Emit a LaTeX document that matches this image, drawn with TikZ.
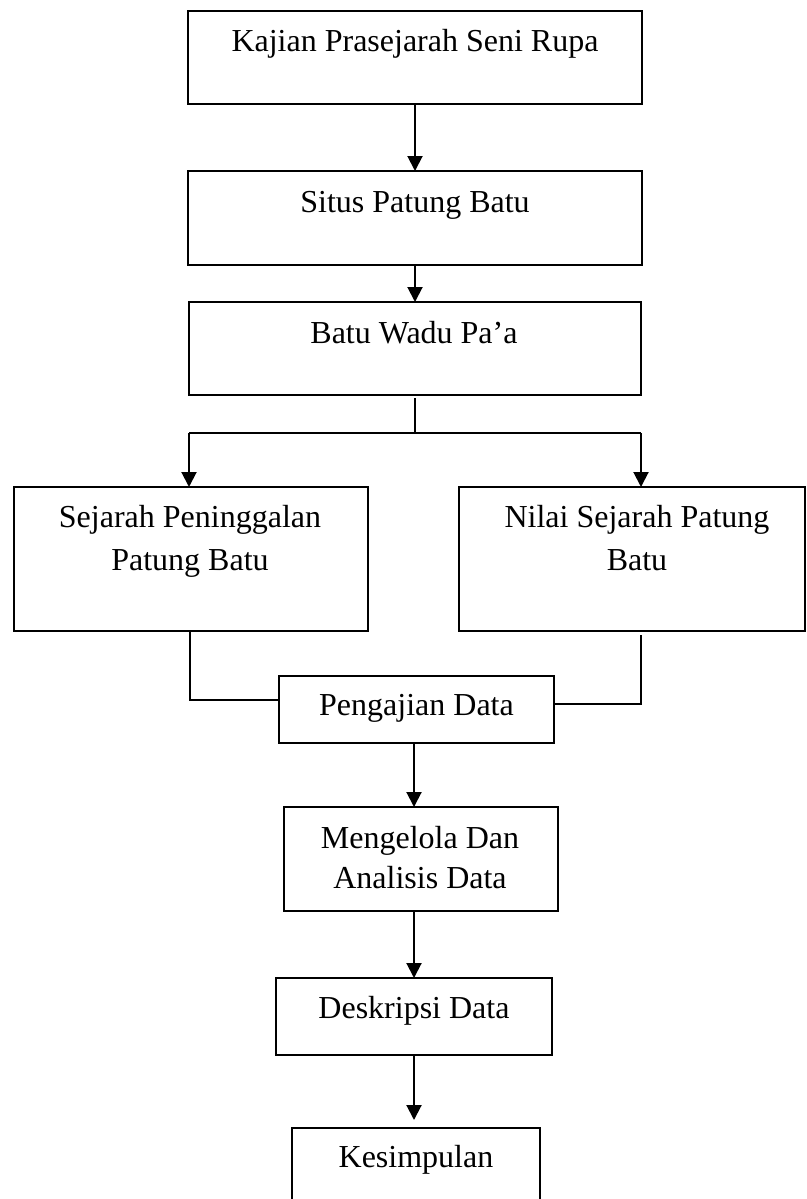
\documentclass[tikz,border=0pt]{standalone}
\usepackage{fontspec}
\setmainfont{Liberation Serif}
\usetikzlibrary{arrows.meta}
\begin{document}
\begin{tikzpicture}[x=1pt,y=-1pt,
  box/.style={draw, line width=2pt, inner sep=0pt, outer sep=0pt},
  txt/.style={font=\fontsize{32}{43}\selectfont, anchor=base, align=center, inner sep=0pt},
  conn/.style={line width=2pt},
  arr/.style={conn, -{Triangle[length=15pt,width=15pt]}}]
\path[use as bounding box] (0,0) rectangle (806,1199);
\clip (0,0) rectangle (806,1199);
% boxes
\node[box, minimum width=454pt, minimum height=93pt] (b1) at (415,57.5) {};
\node[box, minimum width=454pt, minimum height=94pt] (b2) at (415,218) {};
\node[box, minimum width=452pt, minimum height=93pt] (b3) at (415,348.5) {};
\node[box, minimum width=354pt, minimum height=144pt] (b4) at (191,559) {};
\node[box, minimum width=346pt, minimum height=144pt] (b5) at (632,559) {};
\node[box, minimum width=275pt, minimum height=67pt] (b6) at (416.5,709.5) {};
\node[box, minimum width=274pt, minimum height=104pt] (b7) at (421,859) {};
\node[box, minimum width=276pt, minimum height=77pt] (b8) at (414,1016.5) {};
\node[box, minimum width=248pt, minimum height=87pt] (b9) at (416,1171.5) {};
% texts
\node[txt] (t1) at (415,52) {Kajian Prasejarah Seni Rupa};
\node[txt] (t2) at (415,212) {Situs Patung Batu};
\node[txt] (t3) at (414,343) {Batu Wadu Pa’a};
\node[txt] (t4) at (190,570) {Sejarah Peninggalan\\Patung Batu};
\node[txt] (t5) at (637,570) {Nilai Sejarah Patung\\Batu};
\node[txt] (t6) at (416.5,715) {Pengajian Data};
\node[txt, font=\fontsize{32}{40}\selectfont] (t7) at (420,888) {Mengelola Dan\\Analisis Data};
\node[txt] (t8) at (414,1018) {Deskripsi Data};
\node[txt] (t9) at (416,1167) {Kesimpulan};
% connectors
\coordinate (j) at (415,433);
\coordinate (jl) at (189,433);
\coordinate (jr) at (641,433);
\coordinate (ml) at (190,700);
\coordinate (mr) at (641,704);
\draw[arr] (b1.south) -- (b2.north);
\draw[arr] (b2.south) -- (b3.north);
\draw[conn] ([yshift=-3pt]b3.south) -- (j);
\draw[conn] (jl) -- (jr);
\draw[arr] (jl) -- (jl |- b4.north);
\draw[arr] (jr) -- (jr |- b5.north);
\draw[conn] (ml |- b4.south) -- (ml) -- (ml -| b6.west);
\draw[conn] ([yshift=-4pt]mr |- b5.south) -- (mr) -- (mr -| b6.east);
\draw[arr] (b8.north |- b6.south) -- (b8.north |- b7.north);
\draw[arr] (b8.north |- b7.south) -- (b8.north);
\draw[arr, shorten >=8pt] (b8.north |- b8.south) -- (b8.north |- b9.north);
\end{tikzpicture}
\end{document}
